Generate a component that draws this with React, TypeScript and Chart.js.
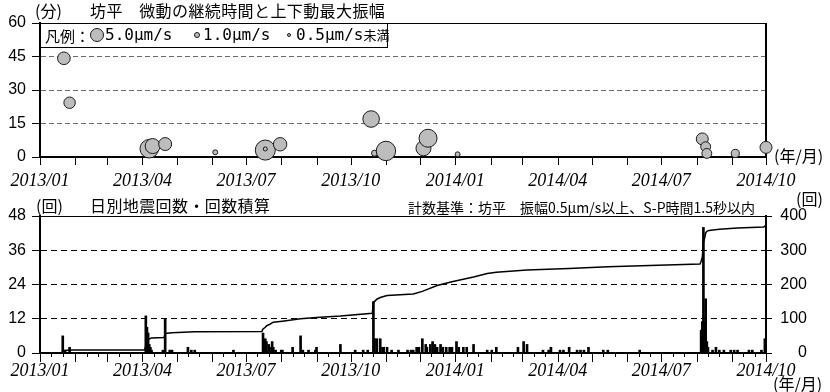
import React, { useEffect, useRef } from 'react';
import { Chart, registerables } from 'chart.js';
Chart.register(...registerables);

// ---------- data ----------
const axisStart = '2013-01-01';
const axisEnd = '2014-10-01';
const xTickLabels = ['2013/01', '2013/04', '2013/07', '2013/10', '2014/01', '2014/04', '2014/07', '2014/10'];

// top: tremor duration (min) and max vertical amplitude (μm/s)
const tremorDates = ['2013-01-22', '2013-01-27', '2013-04-07', '2013-04-10', '2013-04-21', '2013-06-04', '2013-07-18', '2013-07-18', '2013-07-31', '2013-10-19', '2013-10-22', '2013-11-01', '2013-12-04', '2013-12-08', '2014-01-03', '2014-08-06', '2014-08-09', '2014-08-10', '2014-09-04', '2014-10-01'];
const tremorMinutes = [44.2, 24.3, 3.7, 4.9, 5.8, 2.1, 3.1, 3.6, 5.7, 17, 1.7, 2.7, 3.9, 8.4, 1.2, 8.1, 4.6, 1.6, 1.6, 4.3];
const tremorAmplitudes = [3.9, 3.2, 8.4, 5.5, 4.1, 0.6, 9.8, 0.4, 4.4, 6.7, 0.9, 9.2, 5.5, 7.9, 0.6, 3.5, 2.4, 2.4, 1.6, 3.5];
const durationTicks = [0, 15, 30, 45, 60];
const legendAmplitudes = [5.0, 1.0, 0.5];
const legendLabels = ['5.0μm/s', '1.0μm/s', '0.5μm/s'];

// bottom: daily earthquake counts
const quakeDates = ['2013-01-21', '2013-01-23', '2013-01-27', '2013-04-04', '2013-04-05', '2013-04-06', '2013-04-07', '2013-04-08', '2013-04-09', '2013-04-19', '2013-04-21', '2013-04-25', '2013-04-27', '2013-05-11', '2013-05-14', '2013-05-17', '2013-06-20', '2013-07-16', '2013-07-18', '2013-07-19', '2013-07-21', '2013-07-22', '2013-07-24', '2013-07-25', '2013-07-27', '2013-08-01', '2013-08-02', '2013-08-11', '2013-08-18', '2013-08-20', '2013-08-25', '2013-08-31', '2013-09-01', '2013-09-22', '2013-10-05', '2013-10-12', '2013-10-16', '2013-10-21', '2013-10-22', '2013-10-24', '2013-10-27', '2013-10-29', '2013-10-30', '2013-11-02', '2013-11-06', '2013-11-12', '2013-11-20', '2013-11-23', '2013-11-25', '2013-11-28', '2013-11-30', '2013-12-03', '2013-12-06', '2013-12-07', '2013-12-10', '2013-12-12', '2013-12-14', '2013-12-16', '2013-12-19', '2013-12-21', '2013-12-24', '2013-12-27', '2013-12-29', '2014-01-02', '2014-01-04', '2014-01-08', '2014-01-11', '2014-01-17', '2014-01-29', '2014-02-02', '2014-02-06', '2014-02-25', '2014-03-02', '2014-03-05', '2014-03-19', '2014-03-24', '2014-03-26', '2014-04-03', '2014-04-06', '2014-04-11', '2014-04-18', '2014-04-21', '2014-04-24', '2014-04-28', '2014-05-11', '2014-05-15', '2014-06-12', '2014-08-05', '2014-08-06', '2014-08-07', '2014-08-08', '2014-08-09', '2014-08-10', '2014-08-11', '2014-08-15', '2014-08-18', '2014-08-21', '2014-08-25', '2014-08-31', '2014-09-03', '2014-09-06', '2014-09-16', '2014-09-19', '2014-09-27', '2014-09-30'];
const quakeCounts = [6, 1, 2, 13, 9, 7, 3, 2, 1, 1, 12, 1, 1, 2, 1, 1, 1, 7, 5, 4, 3, 2, 4, 2, 1, 1, 1, 2, 6, 1, 1, 1, 2, 3, 1, 1, 1, 18, 5, 5, 5, 2, 2, 2, 1, 1, 1, 1, 1, 2, 2, 5, 3, 2, 3, 4, 3, 2, 3, 2, 2, 2, 2, 4, 2, 2, 2, 3, 1, 1, 2, 2, 4, 3, 1, 1, 2, 1, 1, 2, 1, 1, 1, 2, 1, 1, 1, 8, 11, 44, 11, 19, 4, 2, 1, 2, 1, 1, 1, 1, 1, 1, 1, 1, 5];
const countTicks = [0, 12, 24, 36, 48];

// bottom: cumulative count
const cumulativeDates = ['2013-01-01', '2013-01-20', '2013-01-21', '2013-01-23', '2013-01-27', '2013-04-03', '2013-04-04', '2013-04-05', '2013-04-06', '2013-04-07', '2013-04-09', '2013-04-20', '2013-04-21', '2013-04-27', '2013-05-17', '2013-07-15', '2013-07-16', '2013-07-18', '2013-07-19', '2013-07-22', '2013-07-25', '2013-08-02', '2013-08-18', '2013-09-01', '2013-09-22', '2013-10-20', '2013-10-21', '2013-10-24', '2013-10-27', '2013-11-02', '2013-11-25', '2013-12-03', '2013-12-16', '2013-12-29', '2014-01-17', '2014-01-29', '2014-02-06', '2014-03-05', '2014-04-11', '2014-05-15', '2014-07-13', '2014-08-04', '2014-08-05', '2014-08-06', '2014-08-07', '2014-08-08', '2014-08-09', '2014-08-10', '2014-08-12', '2014-08-21', '2014-09-06', '2014-09-29', '2014-10-01'];
const cumulativeValues = [0, 0, 6, 7, 9, 9, 22, 31, 38, 41, 44, 45, 57, 59, 62, 63, 70, 75, 79, 84, 90, 93, 100, 104, 108, 116, 147, 157, 162, 168, 172, 180, 197, 208, 222, 232, 236, 242, 247, 252, 258, 260, 268, 279, 323, 334, 350, 355, 358, 361, 365, 368, 373];
const cumulativeTicks = [0, 100, 200, 300, 400];

// ---------- helpers ----------
const toDay = (s: string): number => {
  const [y, m, d] = s.split('-').map(Number);
  return Math.round((Date.UTC(y, m - 1, d) - Date.UTC(2013, 0, 1)) / 86400000);
};
const xMin = toDay(axisStart);
const xMax = toDay(axisEnd);
const quarterDays = xTickLabels.map((l) => toDay(l.replace('/', '-') + '-01'));
const ampToRadius = (a: number) => 3.2 * Math.sqrt(a);

const SANS = "'Liberation Sans', Arial, sans-serif";
const SERIF = "'Liberation Serif', 'Times New Roman', serif";
const CJK = "'Noto Sans CJK JP', 'Noto Sans', sans-serif";
const MONO = "'DejaVu Sans Mono', 'Noto Sans CJK JP', monospace";

function tickPlugin(days: number[], monthLen: number, minorLen: number) {
  return {
    id: 'xMonthTicks',
    beforeDatasetsDraw(chart: any) {
      const sc = chart.scales.x;
      const ctx = chart.ctx;
      const y0 = chart.chartArea.bottom;
      ctx.save();
      ctx.strokeStyle = '#000';
      ctx.lineWidth = 1;
      for (let y = 2013; y <= 2014; y++) {
        for (let m = 1; m <= 12; m++) {
          for (const d of days) {
            const v = toDay(`${y}-${m}-${d}`);
            if (v < xMin || v > xMax) continue;
            const px = Math.round(sc.getPixelForValue(v)) + 0.5;
            const len = d === 1 ? monthLen : minorLen;
            ctx.beginPath();
            ctx.moveTo(px, y0);
            ctx.lineTo(px, y0 + len);
            ctx.stroke();
          }
        }
      }
      ctx.restore();
    },
  };
}

function framePlugin(rightBorder: boolean) {
  return {
    id: 'frame',
    beforeDatasetsDraw(chart: any) {
      const { left, right, top, bottom } = chart.chartArea;
      const ctx = chart.ctx;
      ctx.save();
      ctx.strokeStyle = '#000';
      ctx.lineWidth = 1;
      ctx.beginPath();
      ctx.moveTo(left, Math.round(top) + 0.5);
      ctx.lineTo(right, Math.round(top) + 0.5);
      ctx.stroke();
      if (rightBorder) {
        ctx.lineWidth = 2;
        ctx.beginPath();
        ctx.moveTo(Math.round(right), top);
        ctx.lineTo(Math.round(right), bottom);
        ctx.stroke();
      }
      ctx.restore();
    },
  };
}

const xAxis = (height: number, pad: number) => ({
  type: 'linear' as const,
  min: xMin,
  max: xMax,
  offset: false,
  afterFit: (s: any) => {
    s.height = height;
    s.paddingLeft = 0;
    s.paddingRight = 0;
  },
  afterBuildTicks: (s: any) => {
    s.ticks = quarterDays.map((v) => ({ value: v }));
  },
  ticks: {
    autoSkip: false,
    maxRotation: 0,
    minRotation: 0,
    padding: pad,
    color: '#000',
    font: { family: SERIF, style: 'italic' as const, size: 18 },
    callback: (_v: any, i: number) => xTickLabels[i],
  },
  grid: { display: false, drawTicks: false },
  border: { display: true, color: '#000', width: 2 },
});

const Txt = ({ x, cy, size, font = CJK, ls = 0, children }: any) => (
  <div
    style={{
      position: 'absolute',
      left: x,
      top: cy - size / 2,
      fontSize: size,
      lineHeight: `${size}px`,
      fontFamily: font,
      letterSpacing: ls,
      whiteSpace: 'nowrap',
      color: '#000',
    }}
  >
    {children}
  </div>
);

const Dot = ({ cx, cy, amp }: any) => {
  const r = ampToRadius(amp);
  return (
    <div
      style={{
        position: 'absolute',
        left: cx - r,
        top: cy - r,
        width: 2 * r,
        height: 2 * r,
        borderRadius: '50%',
        border: '1px solid #1a1a1a',
        background: '#bdbdbd',
        boxSizing: 'border-box',
      }}
    />
  );
};

export default function App() {
  const topRef = useRef<HTMLCanvasElement>(null);
  const botRef = useRef<HTMLCanvasElement>(null);

  useEffect(() => {
    const top = new Chart(topRef.current as HTMLCanvasElement, {
      type: 'bubble',
      data: {
        datasets: [
          {
            data: tremorDates.map((d, i) => ({ x: toDay(d), y: tremorMinutes[i], r: ampToRadius(tremorAmplitudes[i]) })),
            backgroundColor: '#bdbdbd',
            borderColor: '#1a1a1a',
            borderWidth: 1,
            clip: false as any,
          },
        ],
      },
      options: {
        responsive: false,
        animation: false,
        devicePixelRatio: 1,
        events: [],
        layout: { padding: { top: 23, right: 64, left: 0, bottom: 0 } },
        plugins: { legend: { display: false }, tooltip: { enabled: false } },
        scales: {
          x: xAxis(38, 13) as any,
          y: {
            min: 0,
            max: 60,
            afterFit: (s: any) => {
              s.width = 40;
            },
            afterBuildTicks: (s: any) => {
              s.ticks = durationTicks.map((v) => ({ value: v }));
            },
            ticks: { padding: 6, color: '#000', font: { family: SANS, size: 16 }, callback: (v: any) => String(v) },
            grid: {
              color: (c: any) => (c.tick && c.tick.value > 0 && c.tick.value < 60 ? '#6a6a6a' : 'rgba(0,0,0,0)'),
              tickColor: '#000',
              tickLength: 8,
              lineWidth: 1,
              tickWidth: 1,
            },
            border: { display: true, color: '#000', width: 2, dash: [5, 3] },
          },
        },
      },
      plugins: [framePlugin(true), tickPlugin([1], 8, 0)],
    });

    const bot = new Chart(botRef.current as HTMLCanvasElement, {
      type: 'bar',
      data: {
        datasets: [
          {
            type: 'line',
            data: cumulativeDates.map((d, i) => ({ x: toDay(d), y: cumulativeValues[i] })),
            yAxisID: 'y1',
            borderColor: '#000',
            borderWidth: 1.5,
            pointRadius: 0,
            tension: 0,
            fill: false,
          } as any,
          {
            type: 'bar',
            data: quakeDates.map((d, i) => ({ x: toDay(d), y: quakeCounts[i] })),
            yAxisID: 'y',
            backgroundColor: '#000',
            borderWidth: 0,
            barThickness: 2,
          } as any,
        ],
      },
      options: {
        responsive: false,
        animation: false,
        devicePixelRatio: 1,
        events: [],
        layout: { padding: { top: 21, right: 23, left: 0, bottom: 0 } },
        plugins: { legend: { display: false }, tooltip: { enabled: false } },
        scales: {
          x: xAxis(39, 7) as any,
          y: {
            position: 'left',
            min: 0,
            max: 48,
            afterFit: (s: any) => {
              s.width = 40;
            },
            afterBuildTicks: (s: any) => {
              s.ticks = countTicks.map((v) => ({ value: v }));
            },
            ticks: { padding: 6, color: '#000', font: { family: SANS, size: 16 }, callback: (v: any) => String(v) },
            grid: {
              color: (c: any) => (c.tick && c.tick.value > 0 && c.tick.value < 48 ? '#000' : 'rgba(0,0,0,0)'),
              tickColor: '#000',
              tickLength: 8,
              lineWidth: 1,
              tickWidth: 1,
            },
            border: { display: true, color: '#000', width: 2, dash: [6, 4] },
          },
          y1: {
            position: 'right',
            min: 0,
            max: 400,
            afterFit: (s: any) => {
              s.width = 41;
            },
            afterBuildTicks: (s: any) => {
              s.ticks = cumulativeTicks.map((v) => ({ value: v }));
            },
            ticks: { padding: 4, crossAlign: 'far', color: '#000', font: { family: SANS, size: 16 }, callback: (v: any) => String(v) },
            grid: { drawOnChartArea: false, tickColor: '#000', tickLength: 6, tickWidth: 1 },
            border: { display: true, color: '#000', width: 2 },
          },
        },
      },
      plugins: [framePlugin(false), tickPlugin([1, 11, 21], 9, 4)],
    });

    return () => {
      top.destroy();
      bot.destroy();
    };
  }, []);

  const legendX = [97, 197, 289];
  const legendTextX = [105, 203, 296];

  return (
    <div style={{ position: 'absolute', left: 0, top: 0, width: 830, height: 392, background: '#fff', overflow: 'hidden' }}>
      <canvas ref={topRef} width={830} height={195} style={{ position: 'absolute', left: 0, top: 0 }} />
      <canvas ref={botRef} width={830} height={197} style={{ position: 'absolute', left: 0, top: 195 }} />

      {/* top titles */}
      <Txt x={35} cy={10} size={16}>(分)</Txt>
      <Txt x={90} cy={10} size={16} ls={0.4}>坊平　微動の継続時間と上下動最大振幅</Txt>
      <Txt x={774} cy={155} size={16}>(年/月)</Txt>

      {/* legend */}
      <div
        style={{
          position: 'absolute',
          left: 40,
          top: 23,
          width: 348,
          height: 25,
          border: '1px solid #000',
          boxSizing: 'border-box',
          background: '#fff',
        }}
      />
      <Txt x={45} cy={35} size={15}>凡例：</Txt>
      {legendAmplitudes.map((a, i) => (
        <Dot key={'d' + i} cx={legendX[i]} cy={35} amp={a} />
      ))}
      {legendLabels.map((l, i) => (
        <Txt key={'l' + i} x={legendTextX[i]} cy={35} size={16} font={MONO}>
          {l}
          {i === 2 ? <span style={{ fontFamily: CJK, fontSize: 13 }}>未満</span> : null}
        </Txt>
      ))}

      {/* bottom titles */}
      <Txt x={36} cy={205} size={16}>(回)</Txt>
      <Txt x={90} cy={205} size={16} ls={0.4}>日別地震回数・回数積算</Txt>
      <Txt x={408} cy={207} size={14}>計数基準：坊平　振幅0.5μm/s以上、S-P時間1.5秒以内</Txt>
      <Txt x={796} cy={198} size={16}>(回)</Txt>
      <Txt x={773} cy={383} size={16}>(年/月)</Txt>
    </div>
  );
}
